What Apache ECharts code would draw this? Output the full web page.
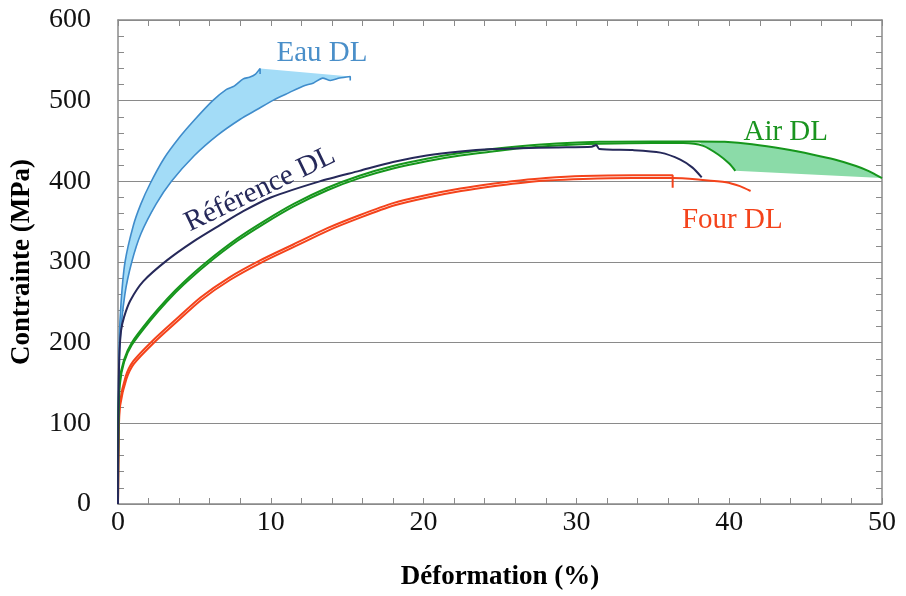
<!DOCTYPE html>
<html><head><meta charset="utf-8">
<script src="https://cdn.jsdelivr.net/npm/echarts/dist/echarts.min.js"></script>
<style>html,body{margin:0;padding:0;background:#fff}#c{width:906px;height:596px}</style>
</head><body><div id="c"></div>
<script>
// ---- data (strain %, stress MPa) ----
const eauUpper=[[0,0],[0.02,100],[0.08,200],[0.2,250],[0.46,300],[1,345],[1.5,372],[2.1,397],[3,428],[4,454],[5,476],[6.2,500],[7.1,514],[7.6,518],[8.2,527],[8.6,529],[9.0,533],[9.3,540],[9.3,533]];
const eauLower=[[0,0],[0.03,100],[0.13,200],[0.45,260],[0.9,300],[1.5,335],[2.5,372],[3.5,400],[5,432],[6.5,457],[8,477],[9.1,489],[10.2,501],[11.2,510],[12.1,518],[12.8,522],[13.4,528],[13.9,525],[14.5,528],[15.2,530],[15.2,525]];
const refDL=[[0,0],[0.02,100],[0.08,180],[0.2,215],[0.4,232],[0.8,252],[1.65,276],[3.2,302],[4.9,325],[6.7,346],[8.2,363],[10,380],[13.2,400],[15.8,413],[18,424],[20.2,432],[22.4,437],[24.5,440],[26.3,441],[28.7,442],[31.0,443],[31.3,445],[31.5,440],[33.7,438.7],[35.5,435.6],[36.8,427],[37.6,417],[38.2,405]];
const air1=[[0,0],[0.03,100],[0.12,148],[0.4,176],[0.9,197],[2.1,227],[3.2,251],[4.3,272],[5.8,297],[7.8,326],[9.6,348],[11.5,369],[13.7,389],[15.8,404],[18,416],[20.2,425],[22.4,432],[24.5,437],[26.3,441],[28.7,444.5],[31.5,446.5],[35,447.5],[37,447.5],[38.3,444],[39.3,433],[40,422],[40.4,413]];
const air2=[[0,0],[0.02,100],[0.1,152],[0.4,179],[0.9,200],[2.1,230],[3.2,254],[4.3,275],[5.8,300],[7.8,329],[9.6,351],[11.5,372],[13.7,392],[15.8,407],[18,419],[20.2,428],[22.4,435],[24.5,440],[26.3,443.5],[28.7,447],[31.5,449],[35,449.5],[38,449.5],[39.7,449],[41.5,446],[43.6,440],[45.5,433],[46.9,427],[48.3,419],[49.1,413],[49.6,408],[50,404]];
const four1=[[0,0],[0.04,90],[0.12,125],[0.5,158],[1,177],[2.3,203],[3.8,229],[5.4,256],[7.3,281],[9.3,302],[11.5,322],[13.7,342],[15.8,358],[18,373],[20.2,383],[22.4,391],[24.5,397],[26.3,401],[28,404],[30.4,406.5],[33.7,407.5],[36.3,407.5],[36.3,392]];
const four2=[[0,0],[0.05,90],[0.14,122],[0.55,155],[1.05,174],[2.35,200],[3.85,226],[5.45,253],[7.35,278],[9.35,299],[11.55,319],[13.75,339],[15.85,355],[18.05,370],[20.25,380],[22.45,388],[24.55,394],[26.35,398],[28.05,401],[30.45,403],[33.7,404],[36.3,404],[38.1,402],[39.8,399],[40.7,394],[41.4,388]];
const xTickLabels=[0,10,20,30,40,50];
const yTickLabels=[0,100,200,300,400,500,600];
const labelNames=['Eau DL','Référence DL','Air DL','Four DL'];
const labelAnchors=[[13.35,558],[9.3,390],[43.7,461],[40.2,352]];

// ---- styles ----
const FONT='"Liberation Serif","Times New Roman",serif';
const C_EAU='#3f8ccb', C_EAU_FILL='#a3dcf7', C_REF='#26295a', C_AIR='#16961c', C_AIR_FILL='#8bdba8', C_FOUR='#f4431b';
const AX='#8a8a8a';

const eauPoly=eauUpper.slice(0,-1).concat(eauLower.slice(0,-1).reverse());
const airPoly=air2.filter(p=>p[0]>=37.5).concat(air1.filter(p=>p[0]>=37.5).reverse());

function polySeries(poly,color){
  return {type:'custom',coordinateSystem:'cartesian2d',data:[[0,0]],silent:true,z:1,
    renderItem:function(params,api){
      return {type:'polygon',shape:{points:poly.map(p=>api.coord(p))},style:{fill:color}};
    }};
}
function lineSeries(data,color,w){
  return {type:'line',data:data,showSymbol:false,symbol:'none',z:3,smooth:0.25,
    lineStyle:{color:color,width:w},silent:true,animation:false};
}

const axisCommon={
  axisLine:{show:true,onZero:false,lineStyle:{color:AX,width:1.5}},
  axisTick:{show:true,inside:true,length:6,lineStyle:{color:AX,width:1}},
  minorTick:{show:true,splitNumber:5,length:6,lineStyle:{color:AX,width:1}},
};
const chart=echarts.init(document.getElementById('c'),null,{renderer:'canvas'});
chart.setOption({
  animation:false,
  backgroundColor:'#fff',
  grid:{left:118,right:24,top:20,bottom:90,containLabel:false},
  xAxis:[
    Object.assign({type:'value',min:0,max:50,interval:10,position:'bottom',
      name:'Déformation (%)',nameLocation:'middle',nameGap:60,
      nameTextStyle:{fontFamily:FONT,fontWeight:'bold',fontSize:27,color:'#000'},
      axisLabel:{show:true,margin:5,fontFamily:FONT,fontSize:28,color:'#111',
        formatter:v=>xTickLabels.indexOf(v)>=0?String(v):''},
      splitLine:{show:false}},axisCommon),
    Object.assign({type:'value',min:0,max:50,interval:10,position:'top',
      axisLabel:{show:false},splitLine:{show:false}},axisCommon)
  ],
  yAxis:[
    Object.assign({type:'value',min:0,max:600,interval:100,position:'left',
      name:'Contrainte (MPa)',nameLocation:'middle',nameGap:82,nameRotate:90,
      nameTextStyle:{fontFamily:FONT,fontWeight:'bold',fontSize:27,color:'#000'},
      axisLabel:{show:true,margin:27,fontFamily:FONT,fontSize:28,color:'#111',
        formatter:v=>yTickLabels.indexOf(v)>=0?String(v):''},
      splitLine:{show:true,lineStyle:{color:AX,width:1}}},axisCommon),
    Object.assign({type:'value',min:0,max:600,interval:100,position:'right',
      axisLabel:{show:false},splitLine:{show:false}},axisCommon)
  ],
  series:[
    polySeries(eauPoly,C_EAU_FILL),
    polySeries(airPoly,C_AIR_FILL),
    lineSeries(eauUpper,C_EAU,1.6),
    lineSeries(eauLower,C_EAU,1.6),
    lineSeries(four1,C_FOUR,2),
    lineSeries(four2,C_FOUR,2),
    lineSeries(air1,C_AIR,2),
    lineSeries(air2,C_AIR,2),
    lineSeries(refDL,C_REF,2)
  ]
});
const labelColors=['#4a8fc9',C_REF,'#1a941f','#f4431b'];
const labelRot=[0,25.6,0,0];
const g=labelNames.map((t,i)=>{
  const p=chart.convertToPixel({gridIndex:0},labelAnchors[i]);
  return {type:'text',x:p[0],y:p[1],rotation:labelRot[i]*Math.PI/180,z:10,
    style:{text:t,fill:labelColors[i],font:'29px '+FONT,textAlign:'center',textVerticalAlign:'middle'}};
});
chart.setOption({graphic:g});
</script></body></html>
